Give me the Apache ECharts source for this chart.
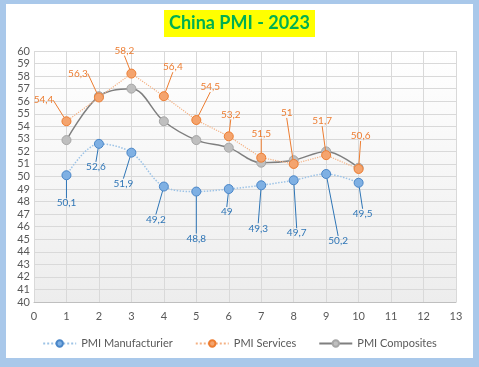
<!DOCTYPE html>
<html>
<head>
<meta charset="utf-8">
<script src="https://cdn.jsdelivr.net/npm/echarts@6/dist/echarts.min.js"></script>
<style>
html,body{margin:0;padding:0;background:#fff;}
#chart{width:479px;height:367px;}
</style>
</head>
<body>
<div id="chart"></div>
<script>
var months = [1, 2, 3, 4, 5, 6, 7, 8, 9, 10];
var manufacturing = [50.1, 52.6, 51.9, 49.2, 48.8, 49.0, 49.3, 49.7, 50.2, 49.5];
var services = [54.4, 56.3, 58.2, 56.4, 54.5, 53.2, 51.5, 51.0, 51.7, 50.6];
var composites = [52.9, 56.4, 57.0, 54.4, 52.9, 52.3, 51.1, 51.3, 52.0, 50.7];
var seriesNames = ['PMI Manufacturier', 'PMI Services', 'PMI Composites'];

// label callout offsets (layout only)
var manufLabelOffsets = [[0,28],[-3,23],[-8,31],[-8,33],[0,47],[-2,23],[-3,43],[3,53],[12,67],[4,31]];
var servLabelOffsets = [[-23,-21],[-21,-24],[-7,-23],[9,-29],[14,-33],[2,-22],[0,-24],[-7,-51],[-4,-34],[2,-33]];

function pairs(vals){ return months.map(function(m,i){ return [m, vals[i]]; }); }
function fmt(p){ return String(p.value[1]).replace('.', ','); }

var chart = echarts.init(document.getElementById('chart'));
var font = 'Lato, "Open Sans", sans-serif';
chart.setOption({
  backgroundColor: '#A9C8EA',
  animation: false,
  graphic: [{
    type: 'rect', z: -10, silent: true,
    shape: {x: 6, y: 4, width: 467, height: 354},
    style: {fill: '#ffffff'}
  }],
  title: {
    text: 'China PMI - 2023',
    left: 'center', top: 10,
    backgroundColor: '#FFFF00',
    padding: [4, 5],
    textStyle: {fontFamily: font, fontSize: 18, fontWeight: 'bold', color: '#00B050', lineHeight: 19}
  },
  legend: {
    left: 'center', top: 333,
    itemWidth: 33, itemHeight: 8, itemGap: 22,
    textStyle: {fontFamily: font, fontSize: 11, color: '#595959'},
    data: seriesNames
  },
  grid: {
    left: 34, right: 23, top: 51, bottom: 65,
    show: true, borderWidth: 0,
    backgroundColor: new echarts.graphic.LinearGradient(0, 0, 0, 1, [
      {offset: 0, color: '#ffffff'}, {offset: 1, color: '#EDEDED'}
    ])
  },
  xAxis: {
    type: 'value', min: 0, max: 13, interval: 1,
    axisLine: {show: true, lineStyle: {color: '#BFBFBF'}},
    axisTick: {show: false},
    axisLabel: {fontFamily: font, fontSize: 11, color: '#595959', margin: 9},
    splitLine: {show: true, lineStyle: {color: '#D9D9D9'}}
  },
  yAxis: {
    type: 'value', min: 40, max: 60, interval: 1,
    axisLine: {show: false},
    axisTick: {show: false},
    axisLabel: {fontFamily: font, fontSize: 11, color: '#595959', margin: 4},
    splitLine: {show: true, lineStyle: {color: '#D9D9D9'}}
  },
  series: [
    {
      name: seriesNames[0], type: 'line', data: pairs(manufacturing),
      smooth: 0.35, symbol: 'circle', symbolSize: 9,
      lineStyle: {color: '#9DC3E6', width: 1.5, type: 'dotted'},
      itemStyle: {color: '#7FB0E3', borderColor: '#4A86C8', borderWidth: 1},
      label: {show: true, position: 'inside', formatter: fmt, fontFamily: font, fontSize: 10, color: '#2E75B6'},
      labelLine: {show: true, lineStyle: {color: '#2E75B6', width: 1}},
      labelLayout: function(p){ var o = manufLabelOffsets[p.dataIndex]; return {dx: o[0], dy: o[1]}; },
      z: 3
    },
    {
      name: seriesNames[1], type: 'line', data: pairs(services),
      smooth: false, symbol: 'circle', symbolSize: 9,
      lineStyle: {color: '#F4B183', width: 1.2, type: 'dotted'},
      itemStyle: {color: '#F4A46E', borderColor: '#ED7D31', borderWidth: 1},
      label: {show: true, position: 'inside', formatter: fmt, fontFamily: font, fontSize: 10, color: '#ED7D31'},
      labelLine: {show: true, lineStyle: {color: '#ED7D31', width: 1}},
      labelLayout: function(p){ var o = servLabelOffsets[p.dataIndex]; return {dx: o[0], dy: o[1]}; },
      z: 4
    },
    {
      name: seriesNames[2], type: 'line', data: pairs(composites),
      smooth: 0.35, symbol: 'circle', symbolSize: 9,
      lineStyle: {color: '#7F7F7F', width: 1.5},
      itemStyle: {color: '#BFBFBF', borderColor: '#A6A6A6', borderWidth: 1},
      z: 2
    }
  ]
});
</script>
</body>
</html>
